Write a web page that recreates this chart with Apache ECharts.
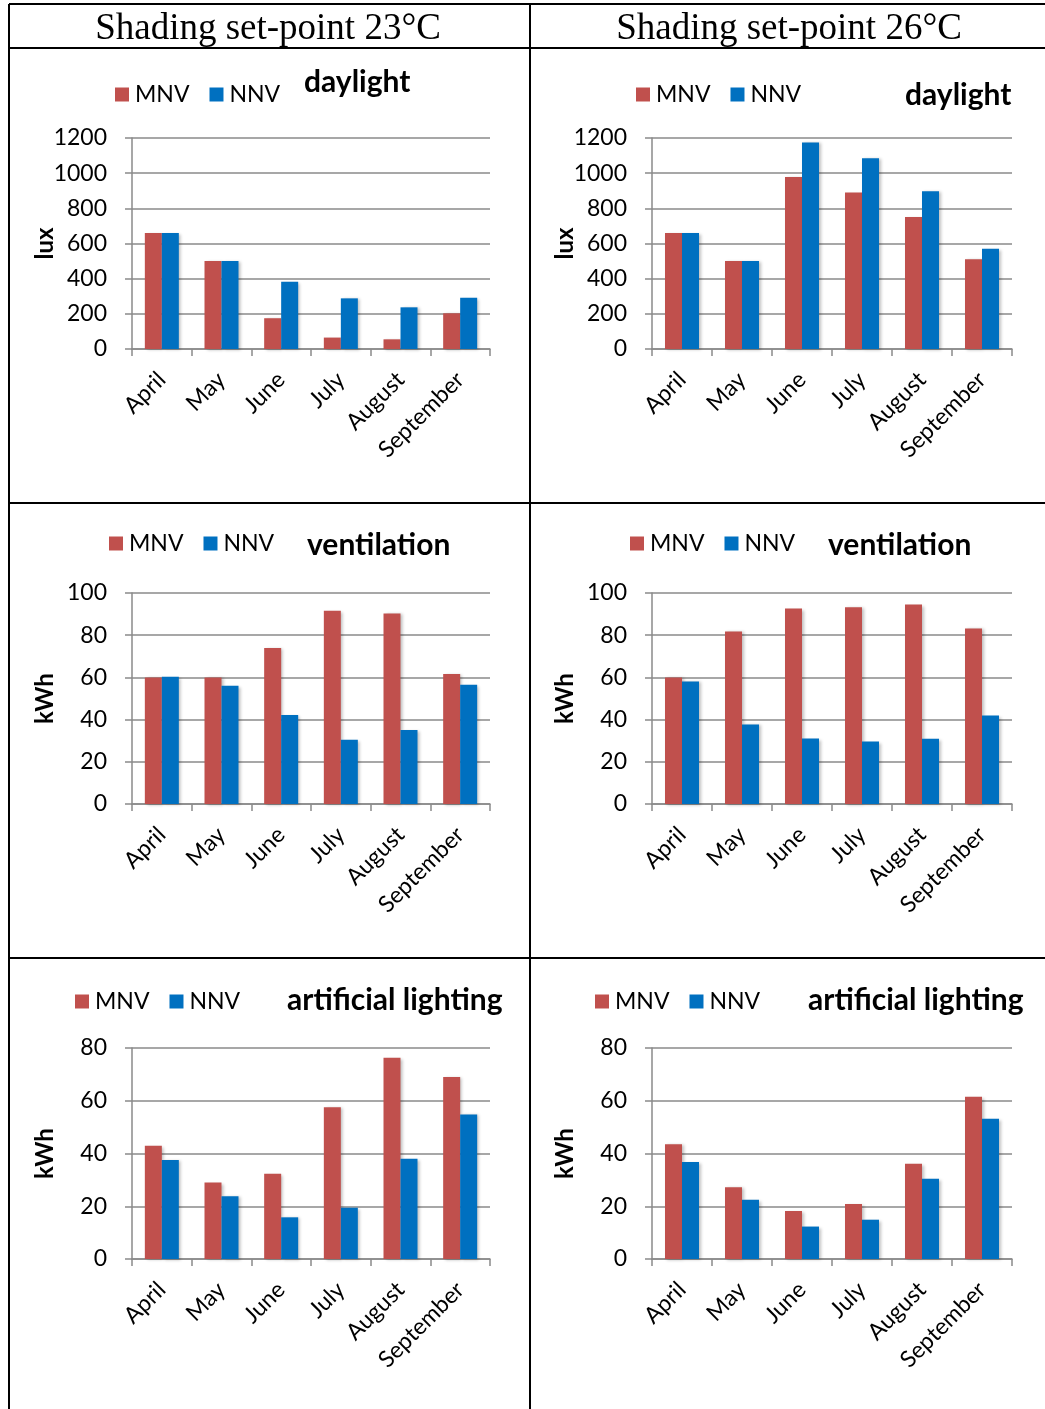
<!DOCTYPE html>
<html>
<head>
<meta charset="utf-8">
<script src="https://cdn.jsdelivr.net/npm/echarts@6/dist/echarts.min.js"></script>
<style>
  html, body { margin: 0; padding: 0; background: #fff; }
  #chart { width: 1045px; height: 1409px; }
</style>
</head>
<body>
<div id="chart"></div>
<script>
const months = ['April', 'May', 'June', 'July', 'August', 'September']
const headers = ['Shading set-point 23°C', 'Shading set-point 26°C']
const panelTitles = ['daylight', 'ventilation', 'artificial lighting']
const unitNames = ['lux', 'kWh', 'kWh']
// y axis ranges per row: [max, interval]
const yRanges = [[1200, 200], [100, 20], [80, 20]]

// daylight (lux)
const daylight23MNV = [660, 500, 175, 65, 55, 203]
const daylight23NNV = [660, 500, 382, 288, 237, 291]
const daylight26MNV = [660, 500, 978, 890, 751, 511]
const daylight26NNV = [660, 500, 1175, 1085, 897, 570]
// ventilation (kWh)
const vent23MNV = [60, 60, 73.9, 91.6, 90.3, 61.6]
const vent23NNV = [60.3, 56, 42.2, 30.5, 35.1, 56.5]
const vent26MNV = [60, 81.8, 92.6, 93.2, 94.5, 83.2]
const vent26NNV = [58.1, 37.7, 31, 29.6, 30.9, 41.9]
// artificial lighting (kWh)
const light23MNV = [42.9, 29, 32.3, 57.5, 76.3, 69]
const light23NNV = [37.5, 23.8, 15.8, 19.4, 38, 54.8]
const light26MNV = [43.5, 27.2, 18.2, 20.9, 36.1, 61.5]
const light26NNV = [36.8, 22.5, 12.3, 14.9, 30.4, 53.2]

const panelData = [
  [daylight23MNV, daylight23NNV], [daylight26MNV, daylight26NNV],
  [vent23MNV, vent23NNV], [vent26MNV, vent26NNV],
  [light23MNV, light23NNV], [light26MNV, light26NNV]
]

const RED = '#C0504D'
const BLUE = '#0070C0'
const GRAY = '#8a8a8a'
const FONT = 'Lato'

const rowTops = [138, 593, 1048]
const colLefts = [132, 652]
const colWidths = [358, 360]
const legendPos = [[115, 94], [636, 94], [109, 543], [630, 543], [75, 1001], [595, 1001]]
const titlePos = [[304, 67], [905, 80], [307, 530], [828, 530], [287, 985], [808, 985]]

const chart = echarts.init(document.getElementById('chart'), null, { renderer: 'canvas' })

const grid = [], xAxis = [], yAxis = [], series = [], legend = [], title = []

for (let i = 0; i < 6; i++) {
  const row = Math.floor(i / 2)
  const col = i % 2
  grid.push({ left: colLefts[col], top: rowTops[row], width: colWidths[col], height: 211 })
  xAxis.push({
    type: 'category',
    gridIndex: i,
    data: months,
    axisLine: { lineStyle: { color: GRAY, width: 1.5 } },
    axisTick: { show: true, length: 7, lineStyle: { color: GRAY, width: 1.5 } },
    axisLabel: { rotate: 45, margin: 27, fontFamily: FONT, fontSize: 23, color: '#000' }
  })
  yAxis.push({
    type: 'value',
    gridIndex: i,
    min: 0,
    max: yRanges[row][0],
    interval: yRanges[row][1],
    name: unitNames[row],
    nameLocation: 'middle',
    nameRotate: 90,
    nameGap: 75,
    nameMoveOverlap: false,
    nameTextStyle: { fontFamily: FONT, fontSize: 24, fontWeight: 'bold', color: '#000' },
    axisLine: { show: true, lineStyle: { color: GRAY, width: 1.5 } },
    axisTick: { show: true, length: 7, lineStyle: { color: GRAY, width: 1.5 } },
    axisLabel: {
      margin: 25, fontFamily: FONT, fontSize: 23, color: '#000',
      formatter: function (v) { return String(v) }
    },
    splitLine: { lineStyle: { color: GRAY, width: 1.5 } }
  })
  ;['MNV', 'NNV'].forEach(function (name, k) {
    series.push({
      name: name,
      type: 'bar',
      xAxisIndex: i,
      yAxisIndex: i,
      data: panelData[i][k],
      barWidth: 17,
      barGap: '0%',
      itemStyle: {
        color: k === 0 ? RED : BLUE,
        shadowColor: 'rgba(0,0,0,0.25)',
        shadowBlur: 3,
        shadowOffsetX: 2,
        shadowOffsetY: 1
      }
    })
  })
  legend.push({
    data: ['MNV', 'NNV'],
    left: legendPos[i][0],
    top: legendPos[i][1] - 11,
    padding: 0,
    icon: 'rect',
    itemWidth: 14,
    itemHeight: 14,
    itemGap: 20,
    selectedMode: false,
    textStyle: { fontFamily: FONT, fontSize: 23, color: '#000', padding: [0, 0, 0, 1] }
  })
  title.push({
    text: panelTitles[row],
    left: titlePos[i][0],
    top: titlePos[i][1],
    padding: 0,
    textStyle: { fontFamily: FONT, fontWeight: 'bold', fontSize: 30, color: '#000' }
  })
}

// table borders and column headers
const lineStyle = { stroke: '#000', lineWidth: 2 }
const borders = [
  [9, 4, 1045, 4], [9, 48, 1045, 48], [9, 503, 1045, 503], [9, 958, 1045, 958],
  [9, 4, 9, 1409], [530, 4, 530, 1409]
]
const graphic = borders.map(function (b) {
  return { type: 'line', shape: { x1: b[0], y1: b[1], x2: b[2], y2: b[3] }, style: lineStyle, silent: true }
})
headers.forEach(function (h, c) {
  graphic.push({
    type: 'text',
    x: c === 0 ? 268 : 789,
    y: 29,
    style: {
      text: h, fill: '#000', font: '37px "Liberation Serif"',
      textAlign: 'center', textVerticalAlign: 'middle'
    }
  })
})

chart.setOption({
  animation: false,
  title: title,
  legend: legend,
  grid: grid,
  xAxis: xAxis,
  yAxis: yAxis,
  series: series,
  graphic: graphic
})
</script>
</body>
</html>
